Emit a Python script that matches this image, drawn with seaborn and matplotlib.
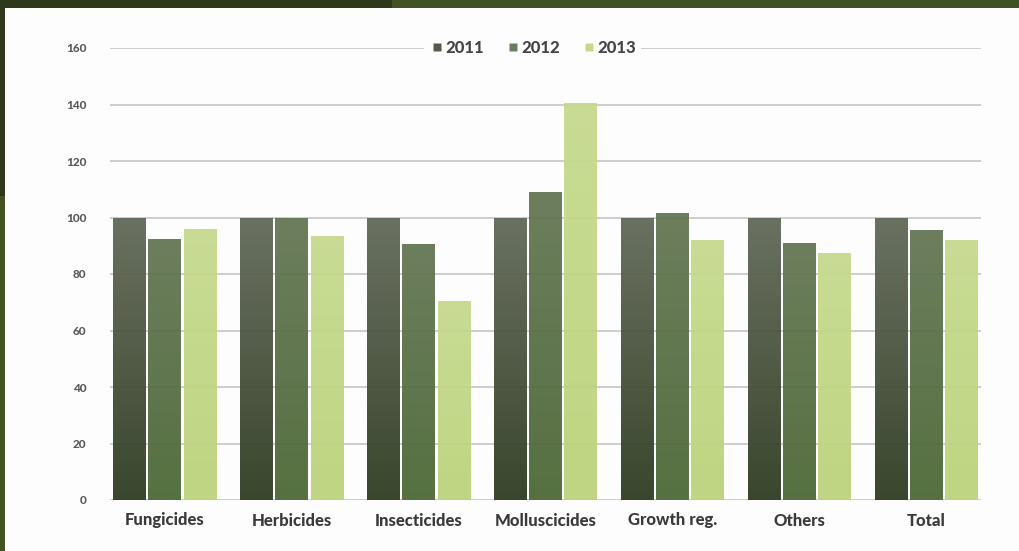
import numpy as np
import pandas as pd
import matplotlib
matplotlib.use("Agg")
import matplotlib.pyplot as plt
from matplotlib.colors import LinearSegmentedColormap
from matplotlib.lines import Line2D
from matplotlib.patches import Rectangle
import seaborn as sns

categories = ["Fungicides", "Herbicides", "Insecticides", "Molluscicides",
              "Growth reg.", "Others", "Total"]
years = ["2011", "2012", "2013"]
v2011 = [100, 100, 100, 100, 100, 100, 100]
v2012 = [92.5, 100, 90.5, 109, 101.5, 91, 95.5]
v2013 = [96, 93.5, 70.5, 140.5, 92, 87.5, 92]
yticks = [0, 20, 40, 60, 80, 100, 120, 140, 160]

df = pd.DataFrame({
    "category": categories * 3,
    "year": [years[0]] * 7 + [years[1]] * 7 + [years[2]] * 7,
    "value": v2011 + v2012 + v2013,
})

sns.set_theme(style="white")
plt.rcParams["font.family"] = ["Lato", "DejaVu Sans"]

flat = {"2011": "#4a5440", "2012": "#5c7446", "2013": "#bfd57f"}
grads = {
    "2011": ("#626958", "#2f3c22"),
    "2012": ("#657755", "#4d6937"),
    "2013": ("#c6da8e", "#bcd37c"),
}
legend_cols = {"2011": "#54584f", "2012": "#6c7d5b", "2013": "#c5da86"}

fig = plt.figure(figsize=(10.19, 5.51), dpi=100)
fig.patch.set_facecolor("#fdfdfd")
W, H = 1019, 551
# frame
fig.add_artist(Rectangle((0, (H - 8) / H), 392 / W, 8 / H, transform=fig.transFigure,
                         facecolor="#2e391b", edgecolor="none", zorder=10))
fig.add_artist(Rectangle((392 / W, (H - 8) / H), 1 - 392 / W, 8 / H, transform=fig.transFigure,
                         facecolor="#435224", edgecolor="none", zorder=10))
fig.add_artist(Rectangle((0, (H - 196) / H), 5 / W, 196 / H, transform=fig.transFigure,
                         facecolor="#2e391b", edgecolor="none", zorder=10))
fig.add_artist(Rectangle((0, 0), 5 / W, (H - 196) / H, transform=fig.transFigure,
                         facecolor="#435224", edgecolor="none", zorder=10))

ax = fig.add_axes([110 / W, (H - 500) / H, 871 / W, 452 / H])
ax.set_facecolor("none")

sns.barplot(data=df, x="category", y="value", hue="year", order=categories,
            hue_order=years, palette=flat, width=0.83, gap=0.08,
            ax=ax, legend=False, saturation=1)

ax.set_xlim(-0.43, 6.43)
ax.set_ylim(0, 160)
ax.set_yticks(yticks)
ax.set_yticklabels([str(t) for t in yticks])

ax.yaxis.grid(True, color="#cdcdcd", linewidth=1.4, zorder=0)
ax.set_axisbelow(True)
for s in ax.spines.values():
    s.set_visible(False)
ax.tick_params(axis="both", length=0)
ax.tick_params(axis="y", pad=17, labelsize=8.5, labelcolor="#5a5a5a")
ax.tick_params(axis="x", pad=9, labelsize=12, labelcolor="#3a3a3a")
for lab in ax.get_yticklabels():
    lab.set_fontweight("black")
for lab in ax.get_xticklabels():
    lab.set_fontweight("black")
ax.set_xlabel("")
ax.set_ylabel("")

# gradient fill for bars
bars = [p for p in ax.patches if p.get_height() > 0]
grad = np.linspace(0, 1, 256).reshape(-1, 1)
for i, p in enumerate(bars):
    yr = years[i // len(categories)]
    top, bot = grads[yr]
    cmap = LinearSegmentedColormap.from_list("g" + yr, [bot, top])
    x0, y0 = p.get_x(), p.get_y()
    w, h = p.get_width(), p.get_height()
    im = ax.imshow(grad, cmap=cmap, origin="lower", aspect="auto",
                   extent=[x0, x0 + w, y0, y0 + h], zorder=2, alpha=0.95)
    im.set_clip_path(p)
    p.set_facecolor("none")
    p.set_edgecolor("none")
ax.set_xlim(-0.43, 6.43)
ax.set_ylim(0, 160)

handles = [Line2D([], [], marker="s", linestyle="none", markersize=6,
                  markerfacecolor=legend_cols[y], markeredgecolor="none") for y in years]
leg = ax.legend(handles, years, loc="center", bbox_to_anchor=(0.4855, 1.0), ncol=3,
                frameon=True, framealpha=1, facecolor="#fdfdfd", edgecolor="none",
                handletextpad=0.05, columnspacing=1.3, borderpad=0.3, handlelength=0.9,
                prop={"family": "Lato", "weight": "black", "size": 12})
for t in leg.get_texts():
    t.set_color("#444444")
leg.set_zorder(5)

fig.savefig("out.png", dpi=100, facecolor=fig.get_facecolor())
